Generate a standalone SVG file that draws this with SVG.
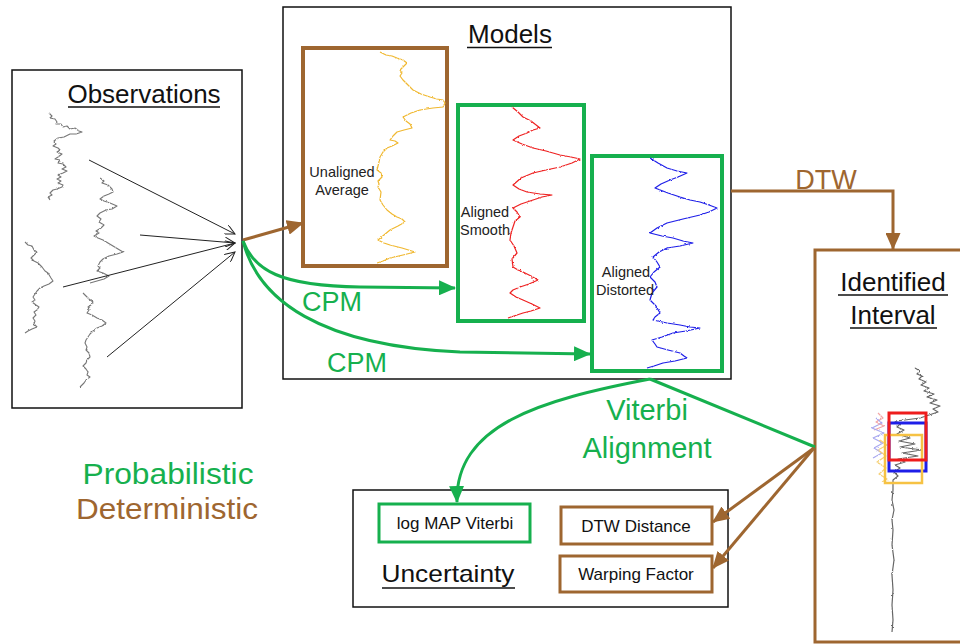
<svg xmlns="http://www.w3.org/2000/svg" width="960" height="644" viewBox="0 0 960 644">
  <style>
    text { font-family: "Liberation Sans", Arial, sans-serif; }
    .title { font-size: 26px; fill: #111; text-anchor: middle; }
    .ul { stroke: #111; stroke-width: 1.5; }
    .frame { fill: #fff; stroke: #111; stroke-width: 1.5; }
    .brownbox { fill: #fff; stroke: #9E6630; stroke-width: 4; }
    .greenbox { fill: #fff; stroke: #16B04E; stroke-width: 4; }
    .small { font-size: 17px; fill: #111; text-anchor: middle; }
    .lbl { font-size: 14.5px; fill: #222; text-anchor: middle; }
    .gtxt { fill: #16B04E; }
    .btxt { fill: #9E6630; }
    .big { font-size: 27px; text-anchor: middle; }
    .sig { fill: none; stroke-width: 1.2; stroke-linejoin: round; }
    .obs { fill: none; stroke: #777; stroke-width: 1.1; stroke-linejoin: round; }
    .gline { fill: none; stroke: #16B04E; stroke-width: 3; }
    .bline { fill: none; stroke: #9E6630; stroke-width: 3; }
    .kline { fill: none; stroke: #222; stroke-width: 1; }
  </style>
  <defs>
    <marker id="arrowG" markerUnits="userSpaceOnUse" markerWidth="17" markerHeight="15" refX="16" refY="7.5" orient="auto">
      <path d="M0,0 L17,7.5 L0,15 z" fill="#16B04E"/>
    </marker>
    <marker id="arrowB" markerUnits="userSpaceOnUse" markerWidth="17" markerHeight="15" refX="16" refY="7.5" orient="auto">
      <path d="M0,0 L17,7.5 L0,15 z" fill="#9E6630"/>
    </marker>
    <marker id="arrowK" markerUnits="userSpaceOnUse" markerWidth="11" markerHeight="10" refX="10" refY="5" orient="auto">
      <path d="M0,0 L10,5 L0,10" fill="none" stroke="#222" stroke-width="1"/>
    </marker>
    <!-- fine measurement noise on the signal traces -->
    <filter id="jitter" x="-10%" y="-5%" width="120%" height="110%">
      <feTurbulence type="fractalNoise" baseFrequency="0.45" numOctaves="1" seed="3" result="n"/>
      <feDisplacementMap in="SourceGraphic" in2="n" scale="2.5" xChannelSelector="R" yChannelSelector="G"/>
    </filter>
  </defs>

  <rect width="960" height="644" fill="#fff"/>

  <!-- Observations -->
  <g id="observations">
    <rect class="frame" x="12" y="70" width="230" height="338"/>
    <text class="title" x="144" y="103">Observations</text>
    <line class="ul" x1="68" y1="107" x2="220" y2="107"/>
    <g filter="url(#jitter)">
      <path class="obs" d="M49,113 L52,116 L50,118 L55,119 L57,122 L56,124 L61,124 L63,127 L67,126 L70,129 L75,128 L79,131 L82,132 L76,134 L70,134 L64,137 L58,138 L54,141 L56,144 L53,146 L58,148 L60,150 L57,152 L62,154 L58,157 L55,159 L60,160 L58,163 L63,164 L66,167 L62,169 L67,171 L63,173 L58,175 L61,177 L57,179 L61,181 L58,183 L63,185 L62,187 L57,189 L53,190 L50,193 L52,195 L48,197 L50,200"/>
      <path class="obs" d="M100,178 L104,181 L102,183 L108,185 L112,189 L113,192 L109,194 L104,196 L100,199 L104,201 L110,203 L117,206 L112,209 L106,210 L100,213 L97,216 L101,219 L99,222 L104,225 L101,228 L96,231 L99,233 L94,236 L98,238 L103,240 L108,243 L113,246 L118,249 L123,252 L117,254 L109,256 L103,259 L100,262 L98,266 L100,268 L97,271 L103,273 L109,276 L104,279 L97,281 L90,283"/>
      <path class="obs" d="M25,242 L28,245 L32,246 L34,250 L37,252 L34,255 L31,258 L34,261 L38,263 L42,267 L45,271 L48,273 L51,278 L53,281 L49,284 L44,286 L40,288 L37,291 L35,294 L33,297 L35,300 L32,302 L36,305 L39,307 L37,310 L34,312 L36,315 L33,318 L35,321 L34,324 L37,327 L32,329 L28,331 L25,333"/>
      <path class="obs" d="M83,293 L86,296 L89,299 L93,302 L91,305 L88,307 L89,310 L87,313 L92,315 L97,318 L102,320 L106,323 L102,326 L97,328 L93,331 L90,334 L88,337 L86,340 L85,343 L87,347 L86,350 L89,353 L90,357 L87,360 L86,363 L83,366 L86,369 L88,372 L87,375 L90,377 L86,380 L84,383 L80,387"/>
    </g>
    <line class="kline" x1="89" y1="160" x2="235" y2="234" marker-end="url(#arrowK)"/>
    <line class="kline" x1="140" y1="235" x2="235" y2="243" marker-end="url(#arrowK)"/>
    <line class="kline" x1="63" y1="287" x2="235" y2="243" marker-end="url(#arrowK)"/>
    <line class="kline" x1="107" y1="357" x2="235" y2="252" marker-end="url(#arrowK)"/>
  </g>

  <!-- Models -->
  <g id="models">
    <rect class="frame" x="283" y="7" width="448" height="372"/>
    <text class="title" x="510" y="43">Models</text>
    <line class="ul" x1="467" y1="47.5" x2="552" y2="47.5"/>
  </g>

  <g id="unaligned-average">
    <rect class="brownbox" x="303" y="48" width="144" height="218"/>
    <path class="sig" stroke="#F0B830" filter="url(#jitter)" d="M380,52 L386,55 L392,56 L397,58 L403,60 L407,63 L404,66 L400,70 L402,73 L400,76 L403,80 L407,84 L413,90 L421,94 L430,97 L437,99 L443,100 L445,103 L443,107 L433,108 L420,110 L411,113 L403,117 L406,121 L410,124 L412,128 L404,130 L397,132 L393,136 L390,140 L395,141 L398,143 L392,146 L387,148 L383,152 L380,157 L379,162 L377,170 L381,173 L382,177 L378,181 L379,184 L378,187 L381,192 L380,200 L383,205 L387,210 L392,214 L397,217 L402,219 L405,222 L398,226 L390,230 L384,235 L378,240 L384,243 L390,245 L402,248 L415,252 L403,255 L390,258 L383,261 L377,263"/>
    <text class="lbl" x="342" y="177">Unaligned</text>
    <text class="lbl" x="342" y="195">Average</text>
  </g>

  <g id="aligned-smooth">
    <rect class="greenbox" x="458" y="105" width="126" height="216"/>
    <path class="sig" stroke="#EE2020" filter="url(#jitter)" d="M512,107 L518,112 L523,117 L531,121 L540,128 L533,130 L527,133 L519,136 L513,140 L522,144 L533,148 L546,151 L560,155 L571,157 L580,159 L572,163 L560,167 L546,170 L533,173 L521,178 L513,185 L519,189 L527,192 L540,194 L552,195 L542,197 L533,200 L521,204 L513,208 L517,212 L520,217 L515,221 L513,227 L511,233 L510,240 L514,246 L517,253 L512,259 L513,267 L518,270 L523,272 L531,276 L538,280 L529,284 L520,287 L513,290 L510,293 L516,297 L523,300 L532,304 L540,308 L531,311 L523,313 L514,316 L508,318"/>
    <text class="lbl" x="485" y="217">Aligned</text>
    <text class="lbl" x="485" y="235">Smooth</text>
  </g>

  <g id="aligned-distorted">
    <rect class="greenbox" x="592" y="156" width="130" height="215"/>
    <path class="sig" stroke="#1E1EE8" filter="url(#jitter)" d="M650,158 L658,163 L667,168 L677,171 L687,173 L678,177 L670,180 L661,184 L655,188 L668,193 L680,197 L690,200 L700,202 L709,205 L717,208 L709,212 L700,215 L683,219 L667,223 L657,228 L650,233 L662,236 L673,238 L683,241 L693,243 L680,246 L667,248 L659,252 L653,257 L657,262 L660,267 L654,272 L650,277 L655,282 L657,287 L652,293 L650,300 L656,306 L660,313 L655,317 L653,320 L667,323 L680,325 L690,327 L700,328 L686,331 L673,333 L662,337 L652,340 L655,344 L657,347 L668,350 L680,353 L684,356 L687,358 L675,361 L663,363 L654,366 L647,368"/>
    <text class="lbl" x="626" y="277">Aligned</text>
    <text class="lbl" x="625" y="295">Distorted</text>
  </g>

  <!-- Identified Interval -->
  <g id="identified-interval">
    <rect x="815" y="250" width="160" height="392" fill="#fff" stroke="#9E6630" stroke-width="3"/>
    <text class="title" x="893" y="291">Identified</text>
    <line class="ul" x1="838" y1="295" x2="948" y2="295"/>
    <text class="title" x="893" y="324">Interval</text>
    <line class="ul" x1="850" y1="328" x2="937" y2="328"/>
    <g filter="url(#jitter)">
      <path class="sig" stroke="#F3A6A6" d="M878,413 L883,418 L876,422 L884,426 L874,430"/>
      <path class="sig" stroke="#A8A8F0" d="M876,418 L882,423 L872,428 L884,433 L873,438 L883,443 L874,448 L882,453 L873,458"/>
      <path class="sig" stroke="#F6D27A" d="M880,440 L887,445 L878,450 L886,456 L877,462 L886,468 L879,474 L887,479 L882,482"/>
      <path class="sig" stroke="#666" stroke-width="1" d="M915,368 L920,371 L917,374 L922,376 L919,379 L926,382 L921,385 L929,388 L924,391 L934,394 L927,397 L937,400 L930,403 L940,406 L933,409 L938,412 L929,415 L920,418 L905,420 L895,421 L900,424 L897,427 L904,430 L897,434 L910,438 L899,441 L915,444 L900,447 L922,450 L902,453 L918,456 L898,459 L905,462 L895,465 L900,468 L894,472 L898,476 L893,480 L893,490 L892,500 L894,510 L892,520 L893,530 L892,545 L894,560 L892,575 L893,590 L892,605 L893,620 L892,632"/>
    </g>
    <rect x="889" y="423" width="37" height="48" fill="none" stroke="#1E1EE8" stroke-width="3"/>
    <rect x="885" y="435" width="37" height="48" fill="none" stroke="#F6C244" stroke-width="2.5"/>
    <rect x="889" y="413" width="37" height="47" fill="none" stroke="#EE1C1C" stroke-width="3"/>
  </g>

  <!-- Uncertainty -->
  <g id="uncertainty">
    <rect class="frame" x="353" y="490" width="375" height="117"/>
    <text x="448" y="582" font-size="24" fill="#111" text-anchor="middle" textLength="133" lengthAdjust="spacingAndGlyphs">Uncertainty</text>
    <line class="ul" x1="382" y1="588" x2="515" y2="588"/>
  </g>
  <g id="log-map-viterbi">
    <rect x="379" y="504" width="151" height="38" fill="#fff" stroke="#16B04E" stroke-width="3"/>
    <text class="small" x="455" y="529">log MAP Viterbi</text>
  </g>
  <g id="dtw-distance">
    <rect x="561" y="507" width="151" height="37" fill="#fff" stroke="#9E6630" stroke-width="3"/>
    <text class="small" x="636" y="532">DTW Distance</text>
  </g>
  <g id="warping-factor">
    <rect x="560" y="556" width="152" height="36" fill="#fff" stroke="#9E6630" stroke-width="3"/>
    <text class="small" x="636" y="580">Warping Factor</text>
  </g>

  <!-- Legend -->
  <g id="legend">
    <text class="gtxt" x="168" y="484" font-size="30" text-anchor="middle" textLength="171" lengthAdjust="spacingAndGlyphs">Probabilistic</text>
    <text class="btxt" x="167" y="519" font-size="30" text-anchor="middle" textLength="182" lengthAdjust="spacingAndGlyphs">Deterministic</text>
  </g>

  <!-- Connectors -->
  <g id="connectors">
    <line class="bline" x1="243" y1="240" x2="303" y2="223" marker-end="url(#arrowB)"/>
    <path class="gline" d="M243,241 C254,270 280,286 360,287 L455,288" marker-end="url(#arrowG)"/>
    <path class="gline" d="M243,241 C258,300 320,346 460,352 L590,354" marker-end="url(#arrowG)"/>
    <path class="bline" d="M731,191 H893 V249" marker-end="url(#arrowB)"/>
    <path class="gline" d="M650,379 C540,400 455,425 457,502" marker-end="url(#arrowG)"/>
    <line class="gline" x1="650" y1="379" x2="815" y2="447"/>
    <line class="bline" x1="814" y1="448" x2="713" y2="522" marker-end="url(#arrowB)"/>
    <line class="bline" x1="814" y1="448" x2="713" y2="568" marker-end="url(#arrowB)"/>
    <text class="gtxt big" x="332" y="311">CPM</text>
    <text class="gtxt big" x="357" y="372">CPM</text>
    <text class="btxt big" x="826" y="189">DTW</text>
    <text class="gtxt" x="647" y="420" font-size="29" text-anchor="middle">Viterbi</text>
    <text class="gtxt" x="647" y="458" font-size="29" text-anchor="middle">Alignment</text>
  </g>
</svg>
